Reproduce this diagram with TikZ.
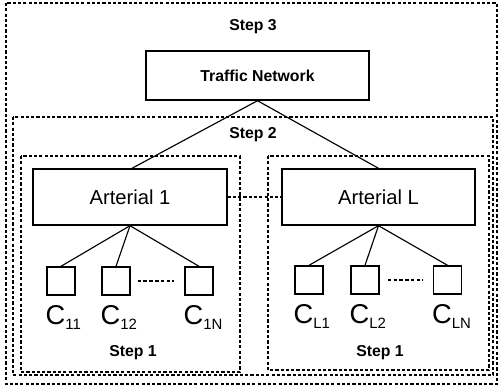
\documentclass[tikz,border=0pt]{standalone}
\usepackage{fontspec}
\setmainfont{Liberation Sans}
\begin{document}
\begin{tikzpicture}[x=0.02cm,y=-0.02cm,
  frame/.style={line width=0.85pt, dash pattern=on 1.8pt off 1.2pt},
  box/.style={draw, line width=0.8pt, inner sep=0pt, fill=white},
  cbox/.style={box, minimum width=0.56cm, minimum height=0.56cm},
  steplbl/.style={font=\bfseries\fontsize{9}{10}\selectfont, inner sep=0pt},
  link/.style={line width=0.65pt},
  clbl/.style={inner sep=0pt, anchor=north west, font=\fontsize{15.5}{16}\selectfont},
  gap/.style={line width=0.6pt, dash pattern=on 2pt off 1.3pt}
]
\useasboundingbox (0,0) rectangle (500,388);
\fill[white] (0,0) rectangle (500,388);
% step frames
\draw[frame] (6,3) rectangle (497,384);
\draw[frame] (13,117) rectangle (493,375);
\draw[frame] (21,156) rectangle (240,372);
\draw[frame] (268,156) rectangle (489,370);
\node[steplbl] (s3) at (253,27) {Step 3};
\node[steplbl] (s2) at (253,135) {Step 2};
\node[steplbl] (s1a) at (133,353) {Step 1};
\node[steplbl] (s1b) at (380,353) {Step 1};
% main boxes
\node[box, minimum width=4.46cm, minimum height=0.98cm, font=\bfseries\fontsize{9}{10}\selectfont] (tn) at (257.5,75.5) {Traffic Network};
\node[box, minimum width=3.88cm, minimum height=1.12cm, font=\fontsize{11.5}{12}\selectfont] (a1) at (130,197) {Arterial 1};
\node[box, minimum width=3.86cm, minimum height=1.12cm, font=\fontsize{11.5}{12}\selectfont] (aL) at (378.5,197) {Arterial L};
\draw[link] (tn.south) -- ([xshift=0.04cm]a1.north);
\draw[link] (tn.south) -- (aL.north);
\draw[frame] (a1.east) -- (aL.west);
% children left
\node[cbox] (c11) at (61,281) {};
\node[cbox] (c12) at (116,281) {};
\node[cbox] (c1n) at (199,281) {};
\draw[link] (a1.south) -- (c11.north);
\draw[link] (a1.south) -- (c12.north);
\draw[link] (a1.south) -- (c1n.north);
\draw[gap, shorten <=0.14cm, shorten >=0.2cm] (c12.east) -- (c1n.west);
% children right
\node[cbox] (cl1) at (309,280) {};
\node[cbox] (cl2) at (365,280) {};
\node[cbox] (cln) at (447.5,280) {};
\draw[link] (aL.south) -- (cl1.north);
\draw[link] (aL.south) -- (cl2.north);
\draw[link] (aL.south) -- (cln.north);
\draw[gap, shorten <=0.16cm, shorten >=0.2cm] (cl2.east) -- (cln.west);
% labels
\newcommand{\clab}[1]{C\raisebox{-0.35ex}{\fontsize{8.5}{9}\selectfont #1}}
\node[clbl] (l11) at ([xshift=-0.02cm,yshift=-0.18cm]c11.south west) {\clab{11}};
\node[clbl] (l12) at ([xshift=-0.02cm,yshift=-0.18cm]c12.south west) {\clab{12}};
\node[clbl] (l1n) at ([xshift=-0.02cm,yshift=-0.18cm]c1n.south west) {\clab{1N}};
\node[clbl] (ll1) at ([xshift=-0.02cm,yshift=-0.18cm]cl1.south west) {\clab{L1}};
\node[clbl] (ll2) at ([xshift=-0.02cm,yshift=-0.18cm]cl2.south west) {\clab{L2}};
\node[clbl] (lln) at ([xshift=-0.02cm,yshift=-0.18cm]cln.south west) {\clab{LN}};
\end{tikzpicture}
\end{document}
